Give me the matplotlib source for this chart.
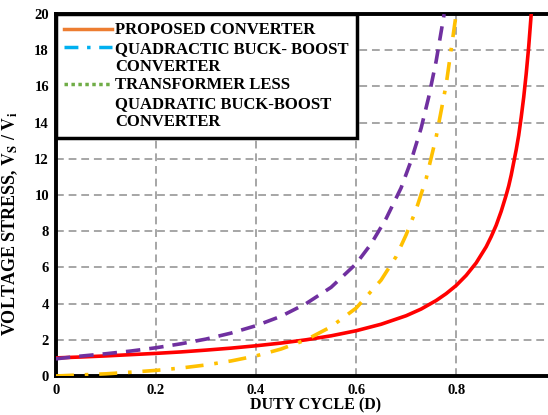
import matplotlib
matplotlib.use('Agg')
import matplotlib.pyplot as plt
from matplotlib.lines import Line2D

plt.rcParams['font.family'] = 'Liberation Serif'
plt.rcParams['font.weight'] = 'bold'
plt.rcParams['mathtext.fontset'] = 'stix'

# values
d_prop = [0, 0.05, 0.1, 0.15, 0.2, 0.25, 0.3, 0.35, 0.4, 0.45, 0.5, 0.55, 0.6, 0.65,
          0.7, 0.73, 0.76, 0.78, 0.8, 0.82, 0.84, 0.86, 0.87, 0.88, 0.89, 0.9,
          0.905, 0.91, 0.915, 0.92, 0.925, 0.93, 0.935, 0.94, 0.945, 0.95]
v_prop = [1.0, 1.05, 1.11, 1.18, 1.25, 1.33, 1.43, 1.54, 1.67, 1.82, 2.0, 2.22, 2.5, 2.86,
          3.33, 3.7, 4.17, 4.55, 5.0, 5.56, 6.25, 7.14, 7.7, 8.33, 9.1, 10.0,
          10.5, 11.1, 11.8, 12.5, 13.3, 14.3, 15.4, 16.7, 18.2, 20.0]

d_qbb = [0, 0.05, 0.1, 0.15, 0.2, 0.25, 0.3, 0.35, 0.4, 0.45, 0.5, 0.55, 0.6, 0.63,
         0.66, 0.69, 0.71, 0.73, 0.745, 0.76, 0.776]
v_qbb = [0.95, 1.1, 1.23, 1.38, 1.56, 1.78, 2.04, 2.37, 2.78, 3.3, 4.0, 4.9, 6.2, 7.3,
         8.7, 10.4, 11.9, 13.7, 15.4, 17.4, 20.0]

d_tqbb = [0, 0.05, 0.1, 0.15, 0.2, 0.25, 0.3, 0.35, 0.4, 0.45, 0.5, 0.55, 0.6, 0.65,
          0.68, 0.7, 0.72, 0.74, 0.76, 0.78, 0.8]
v_tqbb = [0.0, 0.06, 0.12, 0.21, 0.31, 0.44, 0.61, 0.83, 1.11, 1.49, 2.0, 2.72, 3.75, 5.3,
          6.6, 7.8, 9.2, 10.9, 13.2, 16.1, 20.0]

x_ticks = [0, 0.2, 0.4, 0.6, 0.8]
x_ticklabels = ['0', '0.2', '0.4', '0.6', '0.8']

legend_labels = ['PROPOSED CONVERTER', 'QUADRACTIC BUCK- BOOST', 'CONVERTER',
                 'TRANSFORMER LESS', 'QUADRATIC BUCK-BOOST', 'CONVERTER']

fig = plt.figure(figsize=(5.48, 4.15), dpi=100)
ax = fig.add_axes([0.102, 0.094, 0.913, 0.872])

ax.plot(d_prop, v_prop, color='#ff0000', lw=2.6, zorder=3)
ax.plot(d_qbb, v_qbb, color='#7030a0', lw=2.6, ls=(0, (4, 2.5)), zorder=3)
ax.plot(d_tqbb, v_tqbb, color='#ffc000', lw=2.6, ls=(0, (5, 3, 1, 3)), zorder=3)

ax.set_xlim(0, 1)
ax.set_ylim(0, 20)
ax.set_xticks(x_ticks)
ax.set_xticklabels(x_ticklabels)
ax.set_yticks(range(0, 21, 2))
ax.tick_params(length=0, labelsize=10.5)
ax.tick_params(axis='x', pad=6)
ax.tick_params(axis='y', pad=5)
for lab in ax.get_xticklabels() + ax.get_yticklabels():
    lab.set_fontweight('bold')

ax.grid(True, color='#a6a6a6', ls=(0, (4, 2.5)), lw=1.4)
ax.set_axisbelow(True)
for side in ['left', 'bottom', 'top']:
    ax.spines[side].set_linewidth(2.8)
ax.spines['right'].set_visible(False)

ax.set_xlabel('DUTY CYCLE (D)', fontsize=11.5, fontweight='bold')
ax.xaxis.set_label_coords(0.518, -0.06)
ax.set_ylabel(r'VOLTAGE STRESS, $\mathbf{V_S}$ / $\mathbf{V_i}$', fontsize=13, fontweight='bold')
ax.yaxis.set_label_coords(-0.071, 0.42)

blank = Line2D([], [], color='none')
handles = [Line2D([], [], color='#ed7d31', lw=2.5),
           Line2D([], [], color='#00b0f0', lw=2.5, ls=(0, (4, 2.5, 1, 2.5))),
           blank,
           Line2D([], [], color='#70ad47', lw=2.5, ls=(0, (1, 1))),
           blank, blank]
leg = ax.legend(handles, legend_labels, loc='upper left', bbox_to_anchor=(0, 1),
                borderaxespad=0, fancybox=False, framealpha=1, edgecolor='black',
                prop={'family': 'Liberation Serif', 'weight': 'bold', 'size': 12},
                handlelength=2.85, handletextpad=0.2, labelspacing=0.14,
                borderpad=0.5)
leg.get_frame().set_linewidth(2.5)

fig.savefig('out.png', dpi=100)
